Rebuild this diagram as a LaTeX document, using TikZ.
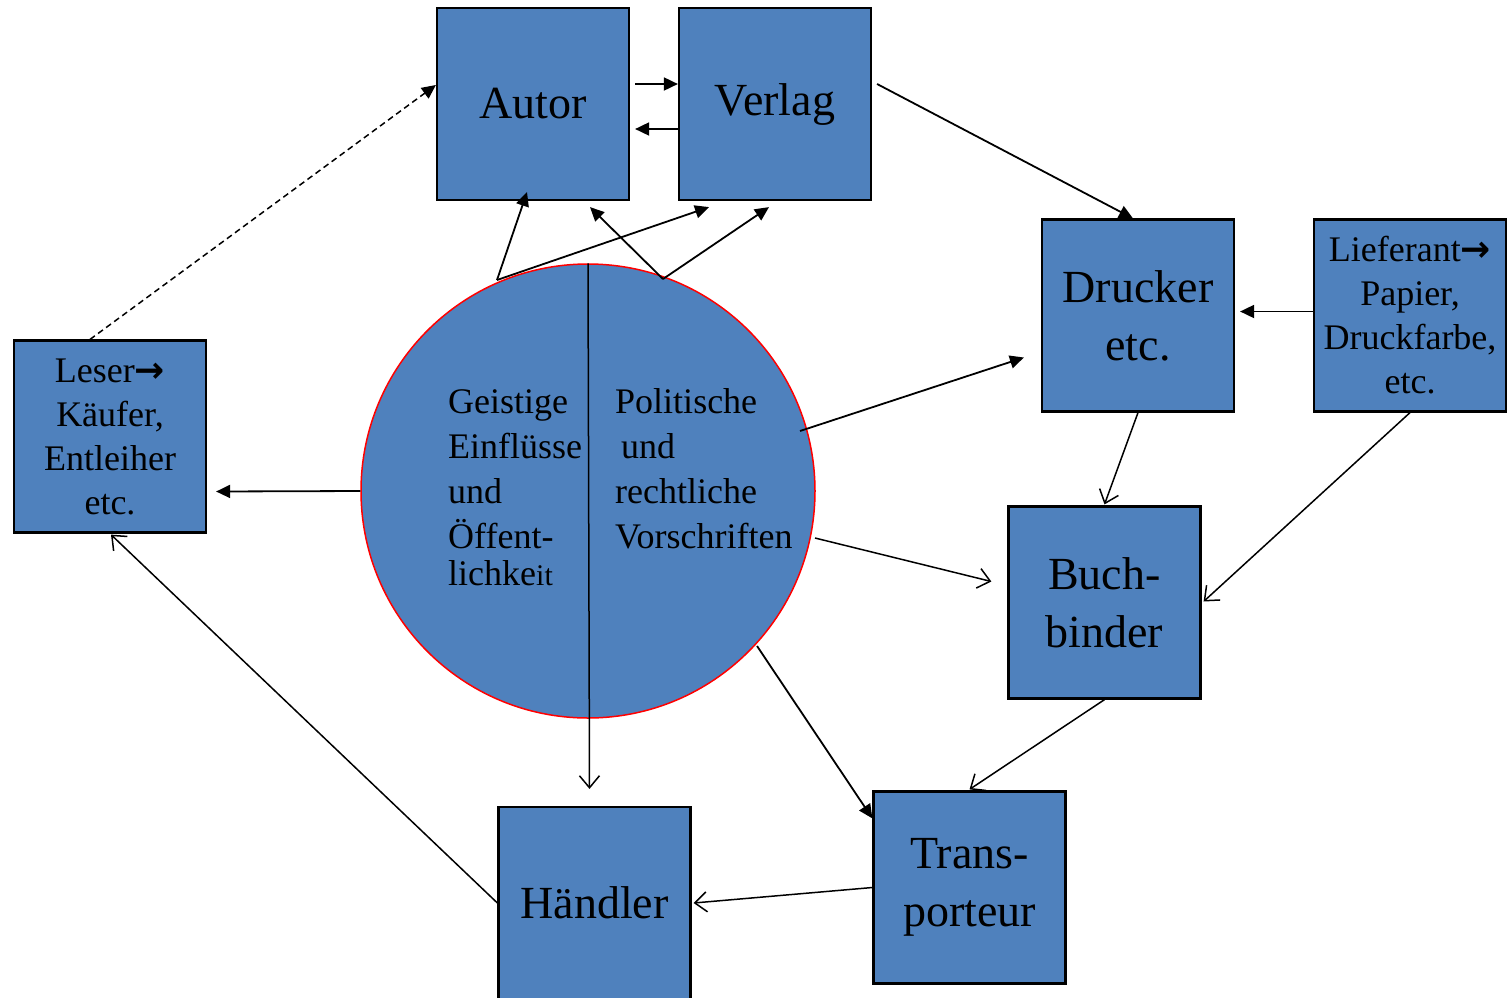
\documentclass[tikz,border=0pt]{standalone}
\usepackage{fontspec}
\setmainfont{Liberation Serif}
\newfontfamily\symfont{DejaVu Sans}
\usetikzlibrary{arrows.meta,calc}
\definecolor{boxblue}{HTML}{4F81BD}
\begin{document}
\begin{tikzpicture}[x=1pt,y=-1pt,
 box/.style={draw=black,line width=2.2pt,fill=boxblue,minimum width=192pt,minimum height=192pt,inner sep=0pt,align=center,text=black},
 big/.style={font=\fontsize{46}{58}\selectfont},
 small/.style={font=\fontsize{36}{44}\selectfont},
 ctext/.style={font=\fontsize{36}{45}\selectfont,anchor=base west,inner sep=0pt},
 fa/.style={line width=1.8pt,-{Triangle[length=14pt,width=13pt]}},
 oa/.style={line width=1.5pt,-{Straight Barb[length=12pt,width=20pt,line width=1.5pt]}},
]
\useasboundingbox (0,0) rectangle (1510,997);
\fill[white] (0,0) rectangle (1510,997);

\node[box,big] (autor) at (533,104) {Autor};
\node[box,big] (verlag) at (775,104) {\raisebox{-5pt}{Verlag}};
\node[box,big] (drucker) at (1138,315.5) {Drucker\\etc.};
\node[box,small] (lief) at (1410,315.5) {Lieferant{\symfont\bfseries →}\\Papier,\\Druckfarbe,\\etc.};
\node[box,small] (leser) at (110,436.5) {Leser{\symfont\bfseries →}\\Käufer,\\Entleiher\\etc.};
\node[box,big] (buch) at (1104.5,602.5) {\raisebox{-4pt}{Buch-}\\\raisebox{-4pt}{binder}};
\node[box,big] (trans) at (969.5,887.5) {\raisebox{-4pt}{Trans-}\\\raisebox{-4pt}{porteur}};
\node[box,big] (handler) at (594.5,903) {Händler};

\node[circle,draw=red,line width=1.5pt,fill=boxblue,minimum size=454pt,inner sep=0pt] (circ) at (588,491) {};

\node[ctext] (g1) at (448,413) {Geistige};
\node[ctext] (g2) at (448,458) {Einflüsse};
\node[ctext] (g3) at (448,503) {und};
\node[ctext] (g4) at (448,548) {Öffent-};
\node[ctext] (g5) at (448,585) {lichke{\fontsize{30}{36}\selectfont it}};
\node[ctext] (p1) at (615,413) {Politische};
\node[ctext] (p2) at (621,458) {und};
\node[ctext] (p3) at (615,503) {rechtliche};
\node[ctext] (p4) at (615,548) {Vorschriften};

% divider line and arrow to Haendler
\draw[oa] (circ.north) -- ($(handler.north)+(-5,-17)$);

% Autor <-> Verlag
\draw[fa] ($(autor.east)+(5,-20)$) -- ($(verlag.west)+(0,-20)$);
\draw[fa] ($(verlag.west)+(0,25)$) -- ($(autor.east)+(5,25)$);
% Verlag -> Drucker
\draw[fa] ($(verlag.east)+(5,-20)$) -- ($(drucker.north)+(-5,0)$);
% Lieferant -> Drucker
\draw[fa] ($(lief.west)+(0,-4)$) -- ($(drucker.east)+(5,-4)$);
% circle -> Drucker
\draw[fa] ($(circ.center)+(212,-60)$) -- ($(drucker.west)+(-17,42)$);
% circle -> Buchbinder
\draw[oa] ($(circ.center)+(227,47)$) -- ($(buch.west)+(-16,-21)$);
% Drucker -> Buchbinder
\draw[oa] (drucker.south) -- ($(buch.north)+(0,-1)$);
% Lieferant -> Buchbinder
\draw[oa] (lief.south) -- ($(buch.east)+(2,-1)$);
% Buchbinder -> Transporteur
\draw[oa] (buch.south) -- ($(trans.north)+(0,-1)$);
% circle -> Transporteur
\draw[fa] ($(circ.center)+(169,155)$) -- ($(trans.north west)+(0,28)$);
% Transporteur -> Haendler
\draw[oa] (trans.west) -- ($(handler.east)+(2,0)$);
% Haendler -> Leser
\draw[oa] (handler.west) -- ($(leser.south)+(1,1)$);
% circle -> Leser
\draw[fa] (circ.west) -- ($(leser.east)+(9,55)$);
% Leser -> Autor dashed
\draw[fa,line width=1.5pt,dash pattern=on 6pt off 4pt] ($(leser.north)+(-20,0)$) -- ($(autor.west)+(0,-19)$);
% circle top arrows
\coordinate (s1) at ($(circ.center)+(-91,-211)$);
\coordinate (s2) at ($(circ.center)+(75,-212)$);
\draw[fa] (s1) -- ($(autor.south)+(-6,-9)$);
\draw[fa] (s1) -- ($(verlag.south)+(-66,6)$);
\draw[fa] (s2) -- ($(autor.south)+(57,6)$);
\draw[fa] (s2) -- ($(verlag.south)+(-6,6)$);
\end{tikzpicture}
\end{document}
